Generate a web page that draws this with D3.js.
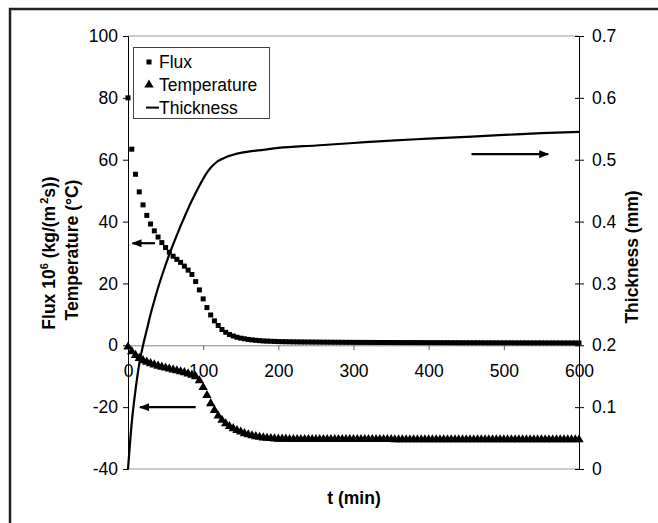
<!DOCTYPE html>
<html>
<head>
<meta charset="utf-8">
<script src="https://cdn.jsdelivr.net/npm/d3@7/dist/d3.min.js"></script>
<style>
  body { margin: 0; background: #fff; }
  svg { display: block; font-family: "Liberation Sans", Arial, sans-serif; }
</style>
</head>
<body>
<div id="chart"></div>
<script>
// time of each measured point (min)
var time = [0,5,10,15,20,25,30,35,40,45,50,55,60,65,70,75,80,85,90,95,100,
  105,110,115,120,125,130,135,140,145,150,155,160,165,170,175,180,185,190,195,200,
  205,210,215,220,225,230,235,240,245,250,255,260,265,270,275,280,285,290,295,300,
  305,310,315,320,325,330,335,340,345,350,355,360,365,370,375,380,385,390,395,400,
  405,410,415,420,425,430,435,440,445,450,455,460,465,470,475,480,485,490,495,500,
  505,510,515,520,525,530,535,540,545,550,555,560,565,570,575,580,585,590,595,600];

// Flux 10^6 (kg/(m^2 s))
var flux = [80,63.4,55.3,49.6,45.4,42.0,39.2,37.0,35.0,33.2,31.6,30.1,28.8,27.8,26.8,25.6,24.3,22.9,20.6,17.9,15.0,
  12.2,9.8,7.9,6.4,5.1,4.2,3.5,3.0,2.6,2.3,2.1,1.9,1.75,1.6,1.5,1.4,1.35,1.3,1.25,1.2,
  1.17,1.15,1.13,1.11,1.09,1.07,1.06,1.05,1.04,1.03,1.02,1.01,1.0,0.99,0.98,0.97,0.96,0.95,0.95,0.94,
  0.94,0.93,0.93,0.92,0.92,0.91,0.91,0.9,0.9,0.89,0.89,0.88,0.88,0.87,0.87,0.87,0.86,0.86,0.86,0.85,
  0.85,0.85,0.84,0.84,0.84,0.83,0.83,0.83,0.82,0.82,0.82,0.81,0.81,0.81,0.8,0.8,0.8,0.8,0.79,0.79,
  0.79,0.79,0.78,0.78,0.78,0.78,0.77,0.77,0.77,0.77,0.76,0.76,0.76,0.76,0.75,0.75,0.75,0.75,0.75,0.74];

// Temperature (°C)
var temperature = [-0.5,-2.0,-3.2,-4.2,-4.9,-5.4,-5.9,-6.3,-6.7,-7.0,-7.3,-7.6,-7.9,-8.2,-8.5,-8.8,-9.2,-9.6,-10.1,-11.4,-13.6,
  -16.2,-18.8,-21.0,-22.8,-24.2,-25.3,-26.2,-26.9,-27.5,-28.0,-28.5,-28.9,-29.2,-29.5,-29.7,-29.9,-30.0,-30.1,-30.2,-30.3,
  -30.3,-30.3,-30.4,-30.4,-30.4,-30.4,-30.4,-30.4,-30.4,-30.4,-30.4,-30.4,-30.4,-30.4,-30.4,-30.4,-30.4,-30.4,-30.4,-30.4,
  -30.4,-30.4,-30.4,-30.4,-30.4,-30.4,-30.4,-30.4,-30.4,-30.4,-30.5,-30.5,-30.5,-30.5,-30.5,-30.5,-30.5,-30.5,-30.5,-30.5,
  -30.5,-30.5,-30.5,-30.5,-30.5,-30.5,-30.5,-30.5,-30.5,-30.5,-30.5,-30.5,-30.5,-30.5,-30.5,-30.5,-30.5,-30.5,-30.5,-30.5,
  -30.5,-30.5,-30.5,-30.5,-30.5,-30.5,-30.5,-30.5,-30.5,-30.5,-30.5,-30.5,-30.5,-30.5,-30.5,-30.5,-30.5,-30.5,-30.5,-30.5];

// Thickness (mm), smooth line
var thickTime = [0,5,10,15,20,25,30,35,40,45,50,55,60,65,70,75,80,85,90,95,100,105,110,115,120,130,140,150,160,180,200,250,300,350,400,450,500,550,600];
var thickness = [0,0.075,0.128,0.17,0.2,0.225,0.25,0.272,0.293,0.312,0.33,0.347,0.363,0.378,0.393,0.407,0.421,0.434,0.446,0.458,0.469,0.479,0.487,0.493,0.498,0.504,0.508,0.511,0.513,0.516,0.519,0.523,0.527,0.531,0.534,0.537,0.540,0.543,0.545];

var leftTicks = [-40,-20,0,20,40,60,80,100];
var rightTicks = [0,0.1,0.2,0.3,0.4,0.5,0.6,0.7];
var xTicks = [0,100,200,300,400,500,600];
var legendLabels = ["Flux", "Temperature", "Thickness"];

var width = 658;
var height = 523;
var fs = 17.5;

var svg = d3.select('#chart')
    .append('svg')
        .attr('width', width)
        .attr('height', height);

// outer frame (cut by the picture on right and bottom)
svg.append('rect')
    .attr('x', 10).attr('y', 9)
    .attr('width', 800).attr('height', 700)
    .attr('fill', 'none')
    .attr('stroke', '#222')
    .attr('stroke-width', 2.5);

var x = d3.scaleLinear().domain([0, 600]).range([128, 579]);
var yL = d3.scaleLinear().domain([-40, 100]).range([469, 36]);
var yR = d3.scaleLinear().domain([0, 0.7]).range([469, 36]);

// plot area border top / bottom
svg.append('line')
    .attr('x1', x(0)).attr('x2', x(600))
    .attr('y1', yL(100)).attr('y2', yL(100))
    .attr('stroke', '#999');
svg.append('line')
    .attr('x1', x(0)).attr('x2', x(600))
    .attr('y1', yL(-40)).attr('y2', yL(-40))
    .attr('stroke', '#999');

// x axis sitting at zero
var xAxis = svg.append('g')
    .attr('transform', 'translate(0,' + yL(0) + ')')
    .call(d3.axisBottom(x).tickValues(xTicks).tickSize(5).tickPadding(14).tickFormat(function(d) { return String(d); }));
xAxis.select('.domain').attr('stroke', '#888');
xAxis.selectAll('.tick line').attr('stroke', '#666');
xAxis.selectAll('text').attr('font-size', fs).attr('font-family', null).attr('fill', '#000');

var leftAxis = svg.append('g')
    .attr('transform', 'translate(' + x(0) + ',0)')
    .call(d3.axisLeft(yL).tickValues(leftTicks).tickSize(5).tickPadding(5).tickFormat(function(d) { return String(d); }));
leftAxis.selectAll('text').attr('font-size', fs).attr('font-family', null);

var rightAxis = svg.append('g')
    .attr('transform', 'translate(' + x(600) + ',0)')
    .call(d3.axisRight(yR).tickValues(rightTicks).tickSize(5).tickPadding(8).tickFormat(d3.format('~g')));
rightAxis.selectAll('.tick line').attr('x1', -4);
rightAxis.selectAll('text').attr('font-size', fs).attr('font-family', null);

// flux squares
svg.append('g').selectAll('rect')
    .data(time)
    .enter()
        .append('rect')
        .attr('x', function(d) { return x(d) - 2.5; })
        .attr('y', function(d, i) { return yL(flux[i]) - 2.5; })
        .attr('width', 5)
        .attr('height', 5)
        .attr('fill', '#000');

// temperature triangles
var tri = d3.symbol().type(d3.symbolTriangle).size(38);
svg.append('g').selectAll('path')
    .data(time)
    .enter()
        .append('path')
        .attr('d', tri)
        .attr('transform', function(d, i) { return 'translate(' + x(d) + ',' + yL(temperature[i]) + ')'; })
        .attr('fill', '#000');

// thickness line
var line = d3.line()
    .x(function(d) { return x(d); })
    .y(function(d, i) { return yR(thickness[i]); })
    .curve(d3.curveMonotoneX);

svg.append('path')
    .attr('d', line(thickTime))
    .attr('fill', 'none')
    .attr('stroke', '#000')
    .attr('stroke-width', 2.2);

// arrows pointing to the axis each series belongs to
svg.append('defs').append('marker')
    .attr('id', 'head')
    .attr('viewBox', '0 0 10 8')
    .attr('refX', 9).attr('refY', 4)
    .attr('markerWidth', 10).attr('markerHeight', 8)
    .attr('markerUnits', 'userSpaceOnUse')
    .attr('orient', 'auto')
        .append('path')
        .attr('d', 'M0,0L10,4L0,8Z')
        .attr('fill', '#000');

var arrows = [
    {x1: x(36), x2: x(6), y: yL(33)},
    {x1: x(90), x2: x(16), y: yL(-20)},
    {x1: x(457), x2: x(559), y: yR(0.509)}
];
svg.selectAll('.arrow')
    .data(arrows)
    .enter()
        .append('line')
        .attr('class', 'arrow')
        .attr('x1', function(d) { return d.x1; })
        .attr('x2', function(d) { return d.x2; })
        .attr('y1', function(d) { return d.y; })
        .attr('y2', function(d) { return d.y; })
        .attr('stroke', '#000')
        .attr('stroke-width', 2.2)
        .attr('marker-end', 'url(#head)');

// legend
svg.append('rect')
    .attr('x', 133.5).attr('y', 47.5)
    .attr('width', 136).attr('height', 71)
    .attr('fill', '#fff')
    .attr('stroke', '#444');

var legend = svg.selectAll('.legend')
    .data(legendLabels)
    .enter()
        .append('g')
        .attr('class', 'legend')
        .attr('transform', function(d, i) { return 'translate(149,' + (62 + i * 22.8) + ')'; });

legend.append('text')
    .attr('x', 10)
    .attr('y', 6)
    .attr('font-size', fs)
    .text(function(d) { return d; });

legend.filter(function(d, i) { return i == 0; }).append('rect')
    .attr('x', -2.5).attr('y', -2.5).attr('width', 5).attr('height', 5).attr('fill', '#000');
legend.filter(function(d, i) { return i == 1; }).append('path')
    .attr('d', tri).attr('fill', '#000');
legend.filter(function(d, i) { return i == 2; }).append('line')
    .attr('x1', -3).attr('x2', 10).attr('y1', 0).attr('y2', 0)
    .attr('stroke', '#000').attr('stroke-width', 2);

// axis titles
svg.append('text')
    .attr('x', 354).attr('y', 504)
    .attr('text-anchor', 'middle')
    .attr('font-size', fs).attr('font-weight', 'bold')
    .text('t (min)');

svg.append('text')
    .attr('transform', 'translate(638,257) rotate(-90)')
    .attr('text-anchor', 'middle')
    .attr('font-size', fs).attr('font-weight', 'bold')
    .text('Thickness (mm)');

var t1 = svg.append('text')
    .attr('transform', 'translate(55,253) rotate(-90)')
    .attr('text-anchor', 'middle')
    .attr('font-size', fs).attr('font-weight', 'bold');
t1.append('tspan').text('Flux 10');
t1.append('tspan').attr('dy', -7).attr('font-size', 11).text('6');
t1.append('tspan').attr('dy', 7).text(' (kg/(m');
t1.append('tspan').attr('dy', -7).attr('dx', 2).attr('font-size', 11).text('2');
t1.append('tspan').attr('dy', 7).text('s))');

svg.append('text')
    .attr('transform', 'translate(78,250) rotate(-90)')
    .attr('text-anchor', 'middle')
    .attr('font-size', fs).attr('font-weight', 'bold')
    .text('Temperature (\u00b0C)');
</script>
</body>
</html>
